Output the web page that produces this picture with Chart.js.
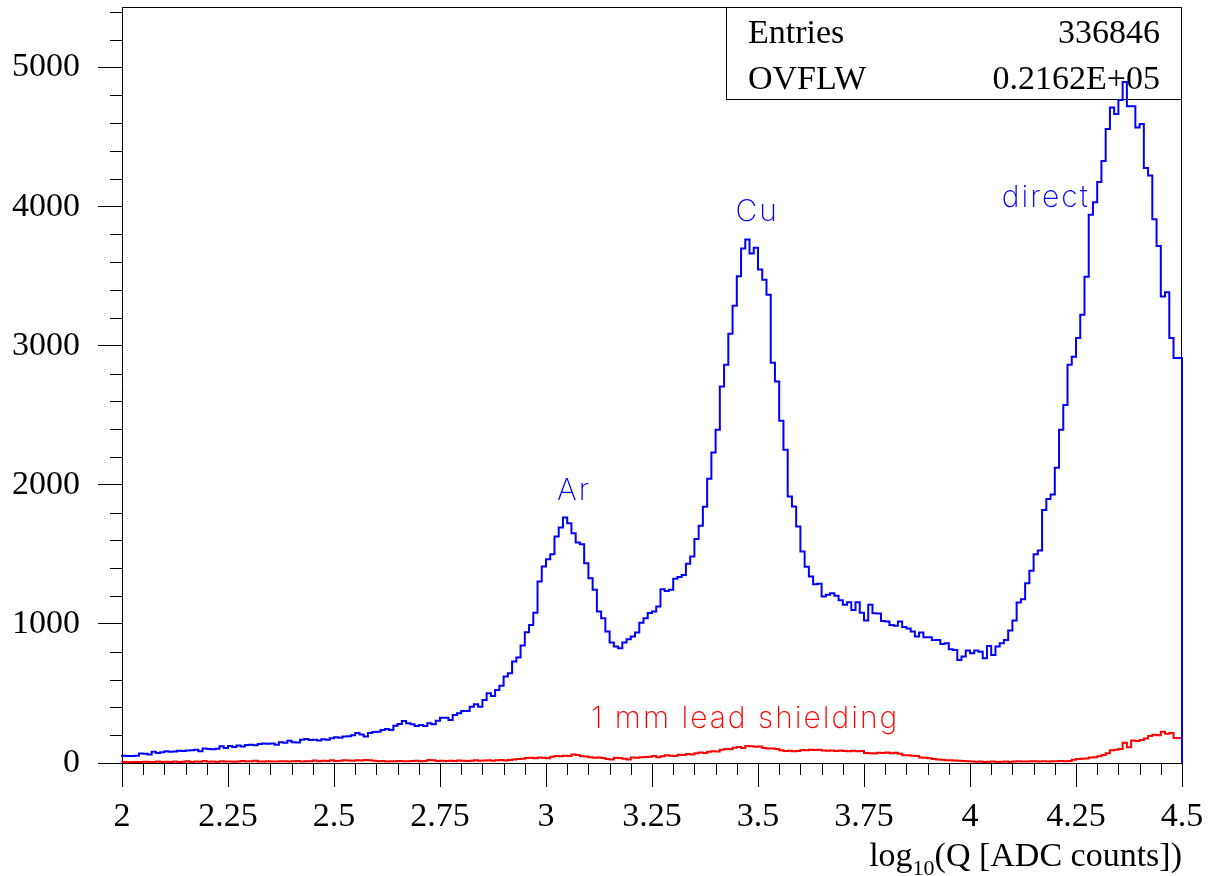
<!DOCTYPE html>
<html>
<head>
<meta charset="utf-8">
<title>log10(Q) spectrum</title>
<script src="https://cdn.jsdelivr.net/npm/chart.js@4.4.1/dist/chart.umd.min.js"></script>
<style>
  html, body { margin: 0; padding: 0; background: #fff; }
  #wrap { width: 1211px; height: 876px; }
</style>
</head>
<body>
<div id="wrap"><canvas id="spectrum" width="1211" height="876"></canvas></div>
<script>
// Histogram binning: 250 bins of 0.01 from 2 to 4.5
const binLow = 2.0;
const binHigh = 4.5;
const binWidth = 0.01;

// Counts per bin
const directCounts = [
  45, 52, 50, 50, 52, 68, 66, 62, 80, 72, 78, 85, 80, 82, 88, 86, 90, 92, 95, 85,
  105, 100, 98, 102, 120, 108, 122, 115, 125, 118, 130, 132, 128, 136, 140, 138, 140, 132, 150, 145,
  160, 150, 148, 168, 172, 165, 168, 162, 170, 168, 178, 185, 182, 190, 192, 200, 215, 205, 190, 215,
  222, 225, 237, 245, 237, 268, 281, 302, 285, 278, 266, 273, 266, 285, 278, 304, 326, 326, 309, 345,
  357, 374, 374, 405, 422, 405, 453, 501, 482, 525, 556, 621, 645, 729, 758, 844, 940, 993, 1081, 1304,
  1412, 1465, 1501, 1628, 1693, 1765, 1724, 1652, 1585, 1573, 1436, 1329, 1245, 1089, 1041, 945, 866, 837, 825, 866,
  890, 909, 938, 1009, 1040, 1079, 1089, 1125, 1250, 1237, 1245, 1324, 1338, 1352, 1432, 1484, 1611, 1705, 1842, 2043,
  2232, 2396, 2707, 2863, 3086, 3288, 3499, 3698, 3763, 3662, 3705, 3547, 3475, 3367, 2878, 2743, 2460, 2252, 1916, 1844,
  1700, 1520, 1410, 1340, 1285, 1288, 1197, 1209, 1221, 1203, 1170, 1137, 1155, 1100, 1155, 1080, 1024, 1137, 1077, 1075,
  1020, 1017, 993, 986, 1017, 978, 967, 945, 909, 938, 904, 904, 885, 885, 856, 861, 818, 813, 741, 765,
  808, 789, 808, 800, 753, 842, 777, 837, 861, 885, 952, 1024, 1153, 1177, 1293, 1383, 1500, 1528, 1818, 1898,
  1930, 2123, 2396, 2573, 2863, 2921, 3056, 3223, 3496, 3941, 4031, 4176, 4327, 4558, 4713, 4665, 4767, 4896, 4722, 4722,
  4568, 4594, 4278, 4224, 3909, 3716, 3353, 3384, 3056, 2911
];

const leadCounts = [
  5, 8, 6, 8, 7, 8, 9, 7, 8, 10, 8, 9, 7, 10, 8, 9, 12, 8, 10, 9,
  14, 9, 10, 8, 12, 10, 11, 9, 10, 14, 10, 12, 16, 11, 10, 12, 11, 10, 13, 12,
  10, 12, 15, 11, 13, 12, 18, 13, 16, 14, 19, 15, 17, 20, 18, 16, 20, 18, 22, 19,
  17, 12, 14, 11, 13, 12, 15, 13, 12, 14, 16, 13, 15, 22, 20, 15, 16, 14, 17, 15,
  18, 16, 15, 17, 19, 16, 18, 20, 17, 19, 21, 18, 22, 26, 28, 30, 36, 38, 35, 40,
  38, 34, 45, 50, 48, 52, 50, 62, 58, 48, 46, 42, 38, 40, 36, 28, 26, 38, 36, 30,
  26, 40, 38, 42, 44, 45, 50, 42, 48, 55, 52, 50, 60, 58, 65, 62, 70, 75, 72, 80,
  85, 82, 95, 100, 98, 110, 115, 108, 122, 120, 117, 118, 108, 105, 104, 100, 92, 86, 88, 84,
  86, 94, 92, 96, 93, 95, 89, 88, 90, 87, 89, 86, 85, 88, 84, 86, 72, 70, 68, 74,
  72, 75, 70, 73, 66, 56, 55, 52, 50, 40, 38, 35, 28, 26, 24, 20, 19, 18, 17, 15,
  12, 10, 9, 10, 8, 9, 10, 8, 9, 10, 8, 10, 12, 10, 11, 13, 12, 10, 12, 11,
  13, 12, 14, 12, 15, 24, 28, 30, 32, 40, 42, 48, 58, 70, 92, 96, 100, 145, 113, 161,
  158, 165, 177, 194, 203, 200, 225, 210, 216, 180
];

// Axis ticks
const xTickValues = [2, 2.25, 2.5, 2.75, 3, 3.25, 3.5, 3.75, 4, 4.25, 4.5];
const xTickLabels = ['2', '2.25', '2.5', '2.75', '3', '3.25', '3.5', '3.75', '4', '4.25', '4.5'];
const yTickValues = [0, 1000, 2000, 3000, 4000, 5000];
const yTickLabels = ['0', '1000', '2000', '3000', '4000', '5000'];
const yMax = 5435;

// Stats box
const statNames = ['Entries', 'OVFLW'];
const statValues = ['336846', '0.2162E+05'];

// Peak labels [text, x, y, colour, align]
const peakLabels = [
  ['Ar', 3.066, 1890, '#0000ff', 'center'],
  ['Cu', 3.498, 3895, '#0000ff', 'center'],
  ['direct', 4.075, 3995, '#0000ff', 'left'],
  ['1 mm lead shielding', 3.106, 255, '#ff0000', 'left']
];

const serif = '"Liberation Serif", "Times New Roman", serif';
const thinSans = 'Inter, "DejaVu Sans", sans-serif';

// turn bin counts into step points (bin low edges + closing edge)
function toSteps(counts) {
  const pts = counts.map((c, i) => ({ x: binLow + i * binWidth, y: c }));
  pts.push({ x: binHigh, y: counts[counts.length - 1] });
  pts.push({ x: binHigh, y: 0 });
  return pts;
}

// frame, minor ticks, stats box, labels, axis title
const rootStyle = {
  id: 'rootStyle',
  beforeDatasetsDraw(chart) {
    const c = chart.ctx;
    const a = chart.chartArea;
    const xs = chart.scales.x;
    const ys = chart.scales.y;
    c.save();
    c.strokeStyle = '#000';
    c.lineWidth = 1;
    // frame top and right
    c.beginPath();
    c.moveTo(a.left, a.top + 0.5);
    c.lineTo(a.right, a.top + 0.5);
    c.moveTo(a.right - 0.5, a.top);
    c.lineTo(a.right - 0.5, a.bottom);
    c.stroke();
    // minor ticks
    c.beginPath();
    for (let i = 0; i <= 50; i++) {
      if (i % 5 === 0) continue;
      const px = Math.round(xs.getPixelForValue(binLow + i * 0.05)) + 0.5;
      c.moveTo(px, a.bottom);
      c.lineTo(px, a.bottom + 12);
    }
    for (let i = 0; i <= 27; i++) {
      if (i % 5 === 0) continue;
      const py = Math.round(ys.getPixelForValue(i * 200)) + 0.5;
      c.moveTo(a.left - 12, py);
      c.lineTo(a.left, py);
    }
    c.stroke();
    // stats box
    const bx = 726, by = a.top, bw = a.right - 726, bh = 92;
    c.fillStyle = '#fff';
    c.fillRect(bx, by, bw, bh);
    c.strokeRect(bx + 0.5, by + 0.5, bw - 1, bh);
    c.fillStyle = '#000';
    c.font = '34px ' + serif;
    c.textBaseline = 'alphabetic';
    statNames.forEach((n, i) => {
      const yy = by + 36 + i * 46;
      c.textAlign = 'left';
      c.fillText(n, bx + 22, yy);
      c.textAlign = 'right';
      c.fillText(statValues[i], a.right - 22, yy);
    });
    c.restore();
  },
  afterDraw(chart) {
    const c = chart.ctx;
    const a = chart.chartArea;
    const xs = chart.scales.x;
    const ys = chart.scales.y;
    c.save();
    // peak labels
    c.font = '200 30px ' + thinSans;
    c.letterSpacing = '2px';
    c.textBaseline = 'alphabetic';
    peakLabels.forEach(([t, x, y, col, al]) => {
      c.fillStyle = col;
      c.textAlign = al;
      c.fillText(t, xs.getPixelForValue(x), ys.getPixelForValue(y));
    });
    c.letterSpacing = '0px';
    // axis title with subscript
    c.fillStyle = '#000';
    c.textAlign = 'left';
    const big = '34px ' + serif, small = '22px ' + serif;
    c.font = big;
    const w1 = c.measureText('log').width;
    const w3 = c.measureText('(Q [ADC counts])').width;
    c.font = small;
    const w2 = c.measureText('10').width;
    const x0 = a.right - (w1 + w2 + w3);
    const base = 866;
    c.font = big;
    c.fillText('log', x0, base);
    c.font = small;
    c.fillText('10', x0 + w1, base + 9);
    c.font = big;
    c.fillText('(Q [ADC counts])', x0 + w1 + w2, base);
    c.restore();
  }
};

const ctx = document.getElementById('spectrum').getContext('2d');
const chart = new Chart(ctx, {
  type: 'line',
  data: {
    datasets: [
      {
        label: 'direct',
        data: toSteps(directCounts),
        borderColor: '#0000ff',
        borderWidth: 2,
        stepped: 'after',
        pointRadius: 0,
        fill: false,
        clip: 2
      },
      {
        label: '1 mm lead shielding',
        data: toSteps(leadCounts),
        borderColor: '#ff0000',
        borderWidth: 2,
        stepped: 'after',
        pointRadius: 0,
        fill: false,
        clip: 2
      }
    ]
  },
  options: {
    responsive: false,
    animation: false,
    devicePixelRatio: 1,
    layout: { padding: { left: 0, right: 29, top: 7, bottom: 0 } },
    plugins: { legend: { display: false }, tooltip: { enabled: false } },
    scales: {
      x: {
        type: 'linear',
        min: binLow,
        max: binHigh,
        afterFit(s) { s.height = 113; s.paddingLeft = 0; s.paddingRight = 0; },
        afterBuildTicks(s) { s.ticks = xTickValues.map(v => ({ value: v })); },
        ticks: {
          color: '#000',
          font: { family: serif, size: 34 },
          padding: 10,
          maxRotation: 0,
          autoSkip: false,
          callback: (v, i) => xTickLabels[i]
        },
        grid: { drawOnChartArea: false, tickLength: 24, color: '#000' },
        border: { color: '#000', width: 1 }
      },
      y: {
        min: 0,
        max: yMax,
        afterFit(s) { s.width = 122; s.paddingTop = 0; s.paddingBottom = 0; },
        afterBuildTicks(s) { s.ticks = yTickValues.map(v => ({ value: v })); },
        ticks: {
          color: '#000',
          font: { family: serif, size: 34 },
          padding: 18,
          autoSkip: false,
          callback: (v, i) => yTickLabels[i]
        },
        grid: { drawOnChartArea: false, tickLength: 24, color: '#000' },
        border: { color: '#000', width: 1 }
      }
    }
  },
  plugins: [rootStyle]
});
</script>
</body>
</html>
